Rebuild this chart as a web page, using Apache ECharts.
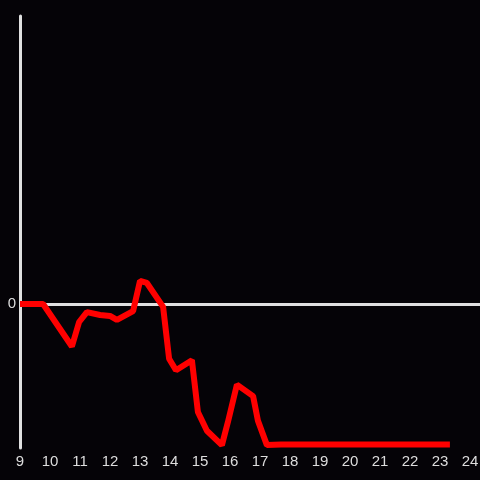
<!DOCTYPE html>
<html>
<head>
<meta charset="utf-8">
<script src="https://cdn.jsdelivr.net/npm/echarts@6/dist/echarts.min.js"></script>
<style>
  html, body { margin: 0; padding: 0; background: #050307; }
  #chart { width: 480px; height: 480px; }
</style>
</head>
<body>
<div id="chart"></div>
<script>
// hour of day and value (arbitrary units, 0 = baseline)
const hours = [9, 9.77, 10.73, 10.97, 11.23, 11.67, 12.0, 12.23, 12.77, 13.0, 13.23, 13.77,
  13.97, 14.2, 14.73, 14.93, 15.23, 15.73, 15.93, 16.23, 16.77, 16.93, 17.23, 17.7, 23.33]
const values = [0, 0, -29.5, -12.5, -5.6, -7.6, -8.3, -11, -4.9, 16, 14.6, -2,
  -38, -46, -39, -75, -88, -98, -82, -56, -64, -81, -98, -97.5, -97.5]
const yTicks = [0]

const chart = echarts.init(document.getElementById('chart'))

chart.setOption({
  backgroundColor: '#050307',
  animation: false,
  grid: {
    left: 20,
    right: 0,
    top: 16,
    bottom: 32,
    outerBoundsMode: 'none'
  },
  xAxis: {
    type: 'value',
    min: 9,
    max: 24.333,
    interval: 1,
    axisLine: { show: false },
    axisTick: { show: false },
    splitLine: { show: false },
    axisLabel: {
      color: '#dddddd',
      fontSize: 15,
      fontFamily: 'Liberation Sans',
      margin: 6,
      formatter: v => Number.isInteger(v) ? String(v) : ''
    }
  },
  yAxis: {
    type: 'value',
    min: -100,
    max: 200,
    interval: 100,
    axisLine: { show: true, onZero: false, lineStyle: { color: '#e0e0e0', width: 3 } },
    axisTick: { show: false },
    splitLine: { show: false },
    axisLabel: {
      color: '#dddddd',
      fontSize: 15,
      fontFamily: 'Liberation Sans',
      margin: 4,
      formatter: v => yTicks.includes(v) ? String(v) : ''
    }
  },
  series: [
    {
      type: 'line',
      data: hours.map((h, i) => [h, values[i]]),
      showSymbol: false,
      lineStyle: { color: '#ff0000', width: 6, cap: 'butt' },
      z: 3,
      markLine: {
        silent: true,
        symbol: 'none',
        label: { show: false },
        lineStyle: { color: '#e0e0e0', width: 3, type: 'solid' },
        data: [{ yAxis: 0 }],
        z: 2
      }
    }
  ]
})
</script>
</body>
</html>
